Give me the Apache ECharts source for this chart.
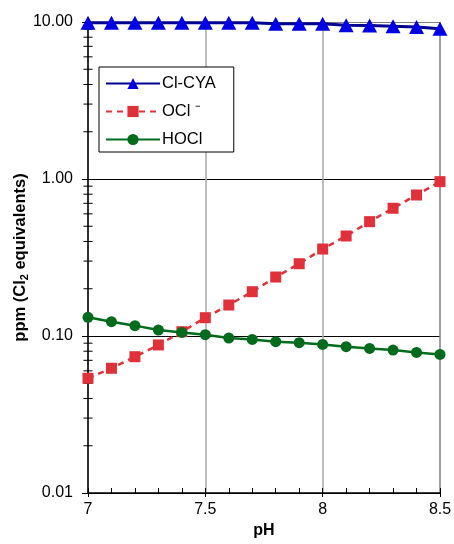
<!DOCTYPE html>
<html>
<head>
<meta charset="utf-8">
<script src="https://cdn.jsdelivr.net/npm/echarts@6/dist/echarts.min.js"></script>
<style>
  html, body { margin: 0; padding: 0; background: #fff; }
  #chart { width: 454px; height: 544px; }
</style>
</head>
<body>
<div id="chart"></div>
<script>
// pH values along the x axis
const pH = [7.0, 7.1, 7.2, 7.3, 7.4, 7.5, 7.6, 7.7, 7.8, 7.9, 8.0, 8.1, 8.2, 8.3, 8.4, 8.5];

// Chlorine species, ppm as Cl2 equivalents
const clCya = [9.9, 9.9, 9.9, 9.9, 9.9, 9.9, 9.9, 9.9, 9.75, 9.75, 9.75, 9.55, 9.5, 9.4, 9.3, 9.05];
const ocl   = [0.0538, 0.0623, 0.0738, 0.0877, 0.1065, 0.1308, 0.1575, 0.1915, 0.2375, 0.2887, 0.358, 0.4335, 0.535, 0.651, 0.791, 0.962];
const hocl  = [0.1315, 0.1234, 0.1164, 0.1092, 0.1054, 0.1019, 0.0971, 0.0951, 0.0920, 0.0906, 0.0884, 0.0855, 0.0833, 0.0814, 0.0786, 0.0763];

// Axis ranges and tick labels
const xMin = 7, xMax = 8.5, xStep = 0.5;
const xTickLabels = ['7', '7.5', '8', '8.5'];
const yDecades = [0.01, 0.1, 1, 10];
const yTickLabels = ['0.01', '0.10', '1.00', '10.00'];

// minor log ticks (2..9 within each decade)
const yMinor = [];
for (let d = 0; d < yDecades.length - 1; d++) {
  for (let m = 2; m <= 9; m++) yMinor.push(+(yDecades[d] * m).toPrecision(3));
}

const FONT = "'Liberation Sans', Arial, sans-serif";

const zip = (xs, ys) => xs.map((x, i) => [x, ys[i]]);

const chart = echarts.init(document.getElementById('chart'), null, { renderer: 'canvas' });

const baseX = {
  type: 'value', min: xMin, max: xMax, interval: xStep,
  position: 'bottom'
};
const baseY = {
  type: 'log', logBase: 10, min: yDecades[0], max: yDecades[yDecades.length - 1],
  position: 'left'
};

chart.setOption({
  animation: false,
  backgroundColor: '#fff',
  textStyle: { fontFamily: FONT, color: '#000' },
  grid: { left: 88, right: 14, top: 22, bottom: 51, containLabel: false, outerBoundsMode: 'none' },
  legend: {
    left: 99, top: 67,
    orient: 'vertical',
    data: ['Cl-CYA', 'OCl', 'HOCl'],
    itemWidth: 54, itemHeight: 14, itemGap: 11,
    padding: [8, 18, 4, 6],
    borderColor: '#000', borderWidth: 1, borderRadius: 0,
    backgroundColor: '#fff',
    textStyle: { fontFamily: FONT, fontSize: 16.5, color: '#000', padding: [0, 0, 0, -3] },
    formatter: name => name === 'OCl' ? 'OCl \u207B' : name
  },
  xAxis: [
    Object.assign({}, baseX, {
      name: 'pH', nameLocation: 'middle', nameGap: 30, nameMoveOverlap: false,
      nameTextStyle: { fontFamily: FONT, fontSize: 16, fontWeight: 'bold', color: '#000' },
      axisLine: { lineStyle: { color: '#000', width: 1.5 } },
      axisTick: { show: true, inside: true, length: 5, lineStyle: { color: '#000', width: 1 } },
      minorTick: { show: true, splitNumber: 5, length: 5, lineStyle: { color: '#000', width: 1 } },
      axisLabel: {
        margin: 9, fontFamily: FONT, fontSize: 16, color: '#000',
        formatter: v => xTickLabels[Math.round((v - xMin) / xStep)]
      },
      splitLine: {
        show: true,
        lineStyle: { color: ['#a8a8a8', '#a8a8a8', '#a8a8a8', '#808080'], width: 1.5 }
      }
    }),
    Object.assign({}, baseX, {
      axisLine: { show: false },
      axisTick: { show: true, inside: false, length: 4, lineStyle: { color: '#000', width: 1 } },
      axisLabel: { show: false },
      splitLine: { show: false }
    })
  ],
  yAxis: [
    Object.assign({}, baseY, {
      name: '{a|ppm (Cl}{s|2}{a| equivalents)}',
      nameLocation: 'middle', nameGap: 58, nameMoveOverlap: false,
      nameTextStyle: {
        rich: {
          a: { fontFamily: FONT, fontSize: 16.5, fontWeight: 'bold', color: '#000', lineHeight: 19 },
          s: { fontFamily: FONT, fontSize: 11, fontWeight: 'bold', color: '#000', lineHeight: 11, verticalAlign: 'bottom' }
        }
      },
      axisLine: { show: true, lineStyle: { color: '#000', width: 1.5 } },
      axisTick: { show: true, inside: false, length: 6, lineStyle: { color: '#000', width: 1 } },
      axisLabel: {
        margin: 15, fontFamily: FONT, fontSize: 16, color: '#000',
        formatter: v => {
          const i = yDecades.findIndex(d => Math.abs(d - v) / d < 1e-6);
          return i >= 0 ? yTickLabels[i] : '';
        }
      },
      splitLine: {
        show: true,
        lineStyle: { color: ['#000', '#000', '#000', '#808080'], width: 1.2 }
      }
    }),
    Object.assign({}, baseY, {
      axisLine: { show: false },
      axisTick: { show: true, inside: true, length: 7, lineStyle: { color: '#000', width: 1 } },
      axisLabel: { show: false },
      splitLine: { show: false }
    })
  ],
  series: [
    {
      // minor log ticks crossing the y axis
      type: 'custom',
      silent: true,
      xAxisIndex: 0, yAxisIndex: 0,
      data: yMinor.map(v => [xMin, v]),
      renderItem: (params, api) => {
        const p = api.coord([api.value(0), api.value(1)]);
        return {
          type: 'line',
          shape: { x1: p[0] - 4.5, y1: p[1], x2: p[0] + 4.5, y2: p[1] },
          style: { stroke: '#000', lineWidth: 1 }
        };
      },
      z: 3
    },
    {
      name: 'Cl-CYA', type: 'line',
      data: zip(pH, clCya),
      symbol: 'triangle', symbolSize: [15, 14],
      lineStyle: { color: '#00008f', width: 3 },
      itemStyle: { color: '#0000e6' },
      z: 5
    },
    {
      name: 'OCl', type: 'line',
      data: zip(pH, ocl),
      symbol: 'rect', symbolSize: 11,
      lineStyle: { color: '#e0303a', width: 2.5, type: [6, 5] },
      itemStyle: { color: '#e0303a' },
      z: 6
    },
    {
      name: 'HOCl', type: 'line',
      data: zip(pH, hocl),
      symbol: 'circle', symbolSize: 11,
      lineStyle: { color: '#006b1c', width: 2.5 },
      itemStyle: { color: '#006b1c' },
      z: 7
    }
  ]
});
</script>
</body>
</html>
